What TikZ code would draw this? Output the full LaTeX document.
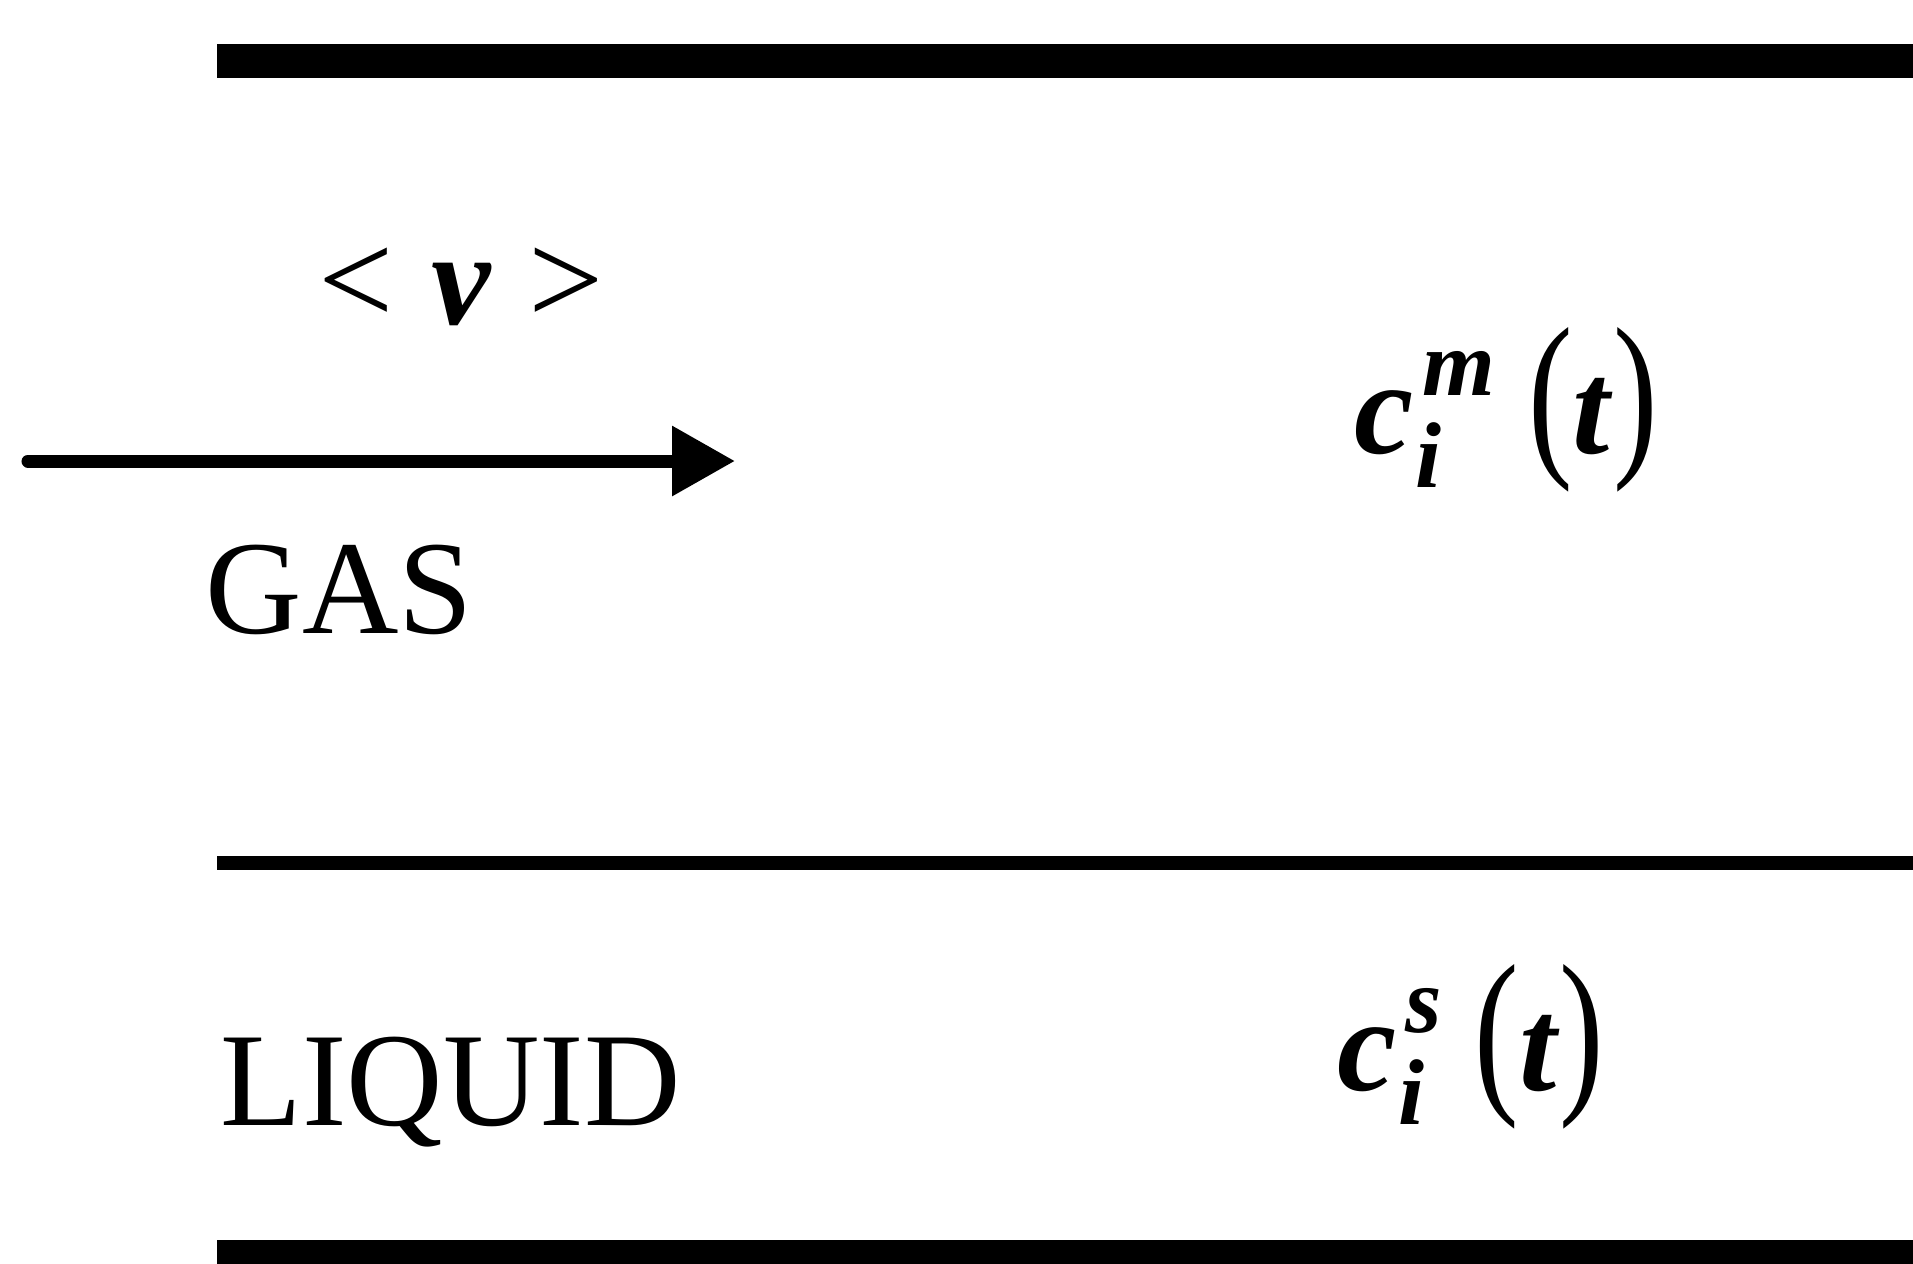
\documentclass[tikz,border=0pt]{standalone}
\usepackage{graphicx}
\usepackage{fontspec}
\setmainfont{Liberation Serif}
\usetikzlibrary{arrows.meta}

\newcommand{\bi}[1]{\textbf{\textit{#1}}}
\newcommand{\idx}[1]{{\fontsize{26.6}{30}\selectfont\bi{#1}}}
\newcommand{\tallparen}[1]{\scalebox{1}[1.36]{#1}}
% Konzentration c_i^#1(t) mit Index und Exponent
\newcommand{\conc}[1]{\bi{c}\kern0.01em\rlap{\raisebox{-0.26em}{\idx{i}}}\kern0.05em\raisebox{0.43em}{\idx{#1}}\hspace{.25em}\tallparen{(}\bi{t}\tallparen{)}}

\begin{document}
\begin{tikzpicture}[>={Triangle[length=6.3mm,width=6.7mm]}, font=\fontsize{38}{44}\selectfont,
    txt/.style={anchor=base west, inner sep=0pt}]

    \useasboundingbox (0,0) rectangle (19.13,-12.63);

    % Parametrisierung der Koordinaten
    \def\xWall{2.17}    % linkes Ende der Wände
    \def\xEnd{19.13}    % rechter Bildrand
    \def\yTop{-0.61}    % obere Wand
    \def\yMid{-8.63}    % Grenzfläche Gas / Flüssigkeit
    \def\yBot{-12.52}   % untere Wand
    \def\yFlow{-4.61}   % Höhe des Strömungspfeils

    % --- Wände ---
    \draw[line width=0.34cm] (\xWall, \yTop) -- (\xEnd, \yTop);
    \draw[line width=0.14cm] (\xWall, \yMid) -- (\xEnd, \yMid);
    \draw[line width=0.24cm] (\xWall, \yBot) -- (\xEnd, \yBot);

    % Strömungspfeil (Gasgeschwindigkeit)
    \coordinate (flowstart) at (0.28, \yFlow);
    \coordinate (flowend) at (7.35, \yFlow);
    \draw[->, line width=0.13cm, line cap=round] (flowstart) -- (flowend);

    % --- Beschriftungen ---
    \node[txt] (velocity) at (3.18, -3.24) {\textless\hspace{.278em}\bi{v}\hspace{.278em}\textgreater};
    \node[txt] (gas) at (2.05, -6.33) {GAS};
    \node[txt] (liquid) at (2.20, -11.25) {LIQUID};

    % Konzentrationen
    \node[txt] (cgas) at (13.54, -4.53) {\conc{m}};
    \node[txt] (cliquid) at (13.37, -10.90) {\conc{s}};

\end{tikzpicture}
\end{document}
